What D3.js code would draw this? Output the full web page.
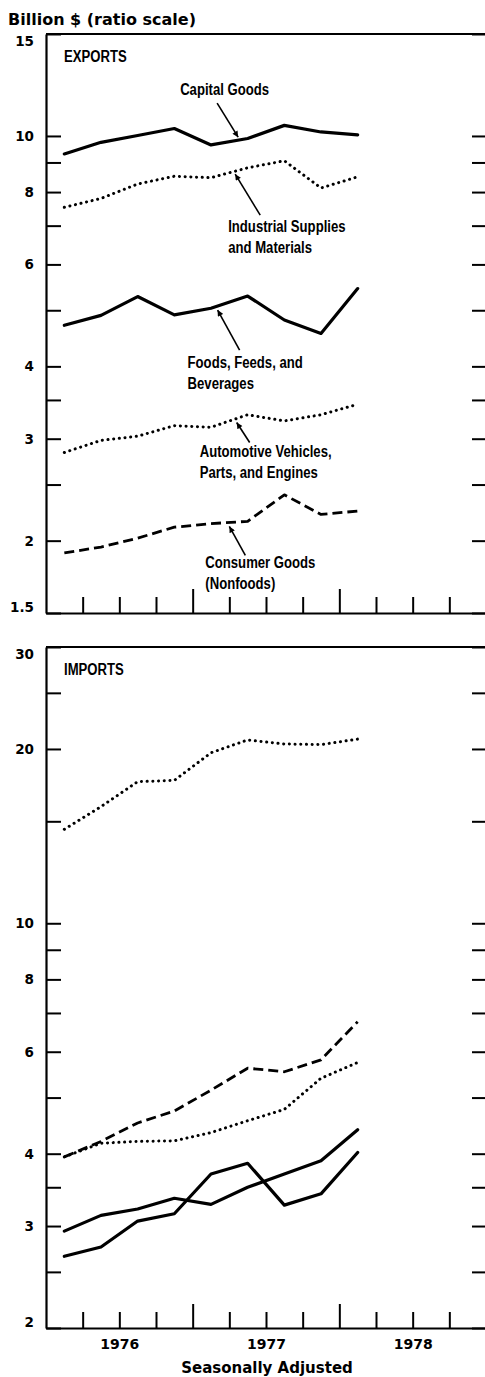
<!DOCTYPE html>
<html>
<head>
<meta charset="utf-8">
<script src="https://cdn.jsdelivr.net/npm/d3@7"></script>
<style>
  body { margin: 0; background: #fff; }
  svg { display: block; }
</style>
</head>
<body>
<svg id="chart" width="485" height="1377"></svg>
<script>
// U.S. merchandise trade by end-use category, quarterly, billions of dollars (seasonally adjusted)
const quarters = ["1976 Q1", "1976 Q2", "1976 Q3", "1976 Q4", "1977 Q1", "1977 Q2", "1977 Q3", "1977 Q4", "1978 Q1"];
const years = [1976, 1977, 1978];

const exportCapitalGoods       = [9.31, 9.75, 10.02, 10.3, 9.65, 9.9, 10.43, 10.16, 10.04];
const exportIndustrialSupplies = [7.53, 7.8, 8.26, 8.52, 8.47, 8.81, 9.06, 8.13, 8.5];
const exportFoods              = [4.71, 4.9, 5.28, 4.91, 5.04, 5.29, 4.81, 4.56, 5.45];
const exportAutomotive         = [2.84, 2.98, 3.03, 3.16, 3.14, 3.3, 3.22, 3.3, 3.44];
const exportConsumerGoods      = [1.905, 1.95, 2.02, 2.11, 2.14, 2.16, 2.4, 2.22, 2.25];

const importIndustrialSupplies = [14.53, 15.9, 17.56, 17.65, 19.7, 20.73, 20.4, 20.35, 20.8];
const importConsumerGoods      = [3.95, 4.2, 4.52, 4.74, 5.15, 5.62, 5.54, 5.81, 6.76];
const importAutomotive         = [3.95, 4.17, 4.2, 4.21, 4.35, 4.56, 4.77, 5.4, 5.75];
const importCapitalGoods       = [2.94, 3.13, 3.21, 3.35, 3.27, 3.5, 3.69, 3.89, 4.4];
const importFoods              = [2.66, 2.76, 3.06, 3.15, 3.69, 3.85, 3.26, 3.41, 4.02];

const exportTickLabels = [1.5, 2, 3, 4, 6, 8, 10, 15];
const exportMinorTicks = [2.5, 3.5, 5, 7, 9];
const importTickLabels = [2, 3, 4, 6, 8, 10, 20, 30];
const importMinorTicks = [2.5, 3.5, 5, 7, 9, 15, 25];

// ---------------------------------------------------------------------------

const numFont = '"DejaVu Sans", Verdana, sans-serif';
const labelFont = '"Liberation Sans", Arial, sans-serif';
const narrow = 0.82; // horizontal squeeze for the condensed label face

// each quarter is plotted at its midpoint
const qTime = quarters.map(q => {
  const [yr, qq] = q.split(" Q");
  return +yr + (+qq - 0.5) / 4;
});

const lineStyles = {
  solid:  { width: 3.2, dash: null, cap: "round" },
  dotted: { width: 3.0, dash: "0.1 5.6", cap: "round" },
  dashed: { width: 2.8, dash: "10 5", cap: "butt" }
};

const svg = d3.select("#chart");
const x = d3.scaleLinear().domain([years[0], years[years.length - 1] + 1]).range([46, 486]);
const plotRight = 485;

svg.append("defs").append("marker")
  .attr("id", "arrowhead")
  .attr("viewBox", "0 0 10 10")
  .attr("refX", 10).attr("refY", 5)
  .attr("markerWidth", 8).attr("markerHeight", 6)
  .attr("markerUnits", "userSpaceOnUse")
  .attr("orient", "auto")
  .append("path").attr("d", "M0,0L10,5L0,10Z").attr("fill", "#000");

// condensed text block: lines stacked from a left/baseline anchor
function narrowText(parent, x0, y0, lines, lead) {
  const t = parent.append("text")
    .attr("transform", `translate(${x0},${y0}) scale(${narrow},1)`)
    .attr("font-family", labelFont)
    .attr("font-weight", "bold")
    .attr("font-size", 16);
  lines.forEach((txt, k) => {
    t.append("tspan").attr("x", 0).attr("y", k * lead).text(txt);
  });
  return t;
}

const panels = [
  {
    title: "EXPORTS",
    y: d3.scaleLog().domain([1.5, 15]).range([613, 34]),
    labels: exportTickLabels,
    minor: exportMinorTicks,
    series: [
      { name: "Capital Goods", values: exportCapitalGoods, style: "solid" },
      { name: "Industrial Supplies and Materials", values: exportIndustrialSupplies, style: "dotted" },
      { name: "Foods, Feeds, and Beverages", values: exportFoods, style: "solid" },
      { name: "Automotive Vehicles, Parts, and Engines", values: exportAutomotive, style: "dotted" },
      { name: "Consumer Goods (Nonfoods)", values: exportConsumerGoods, style: "dashed" }
    ],
    // label callouts: position along the line, arrow tail and text offsets from the arrow tip
    notes: [
      { series: 0, t: 1977.31, tipDy: -3, tail: [-21, -34], text: [-58, -42], lines: ["Capital Goods"] },
      { series: 1, t: 1977.29, tipDy: 3,  tail: [25, 41],   text: [-7, 58],   lines: ["Industrial Supplies", "and Materials"] },
      { series: 2, t: 1977.17, tipDy: 4,  tail: [22, 40],   text: [-30, 58],  lines: ["Foods, Feeds, and", "Beverages"] },
      { series: 3, t: 1977.30, tipDy: 4,  tail: [13, 20],   text: [-37, 35],  lines: ["Automotive Vehicles,", "Parts, and Engines"] },
      { series: 4, t: 1977.25, tipDy: 4,  tail: [16, 29],   text: [-24, 42],  lines: ["Consumer Goods", "(Nonfoods)"] }
    ]
  },
  {
    title: "IMPORTS",
    y: d3.scaleLog().domain([2, 30]).range([1328, 647]),
    labels: importTickLabels,
    minor: importMinorTicks,
    series: [
      { name: "Industrial Supplies and Materials", values: importIndustrialSupplies, style: "dotted" },
      { name: "Consumer Goods (Nonfoods)", values: importConsumerGoods, style: "dashed" },
      { name: "Automotive Vehicles, Parts, and Engines", values: importAutomotive, style: "dotted" },
      { name: "Capital Goods", values: importCapitalGoods, style: "solid" },
      { name: "Foods, Feeds, and Beverages", values: importFoods, style: "solid" }
    ],
    notes: []
  }
];

// quarter ticks along the bottom edge; year boundaries get taller marks
const quarterTicks = d3.range(1, 4 * years.length).map(i => years[0] + i / 4);

panels.forEach(p => {
  const g = svg.append("g");
  const [bottom, top] = p.y.range();
  const allTicks = p.labels.concat(p.minor).sort(d3.ascending);

  // top frame line
  g.append("line")
    .attr("x1", x.range()[0]).attr("x2", plotRight)
    .attr("y1", top).attr("y2", top)
    .attr("stroke", "#000").attr("stroke-width", 2.2);

  // left axis with inward ticks
  const left = g.append("g")
    .attr("transform", `translate(${x.range()[0]},0)`)
    .call(d3.axisRight(p.y).tickValues(allTicks).tickSizeInner(15).tickSizeOuter(0).tickFormat(""));
  left.select(".domain").attr("stroke-width", 2.2);
  left.selectAll(".tick line").attr("stroke-width", 2);

  // right side ticks
  const right = g.append("g")
    .attr("transform", `translate(${plotRight},0)`)
    .call(d3.axisLeft(p.y).tickValues(allTicks).tickSizeInner(13).tickSizeOuter(0).tickFormat(""));
  right.select(".domain").remove();
  right.selectAll(".tick line").attr("stroke-width", 2);

  // value labels, kept inside the panel at the ends
  g.selectAll("text.ylab")
    .data(p.labels)
    .join("text")
    .attr("class", "ylab")
    .attr("x", 34)
    .attr("y", d => Math.min(bottom - 6, Math.max(top + 7, p.y(d))))
    .attr("dy", "0.36em")
    .attr("text-anchor", "end")
    .attr("font-family", numFont)
    .attr("font-weight", "bold")
    .attr("font-size", 13.5)
    .text(d => d);

  // bottom axis with quarter ticks
  const bx = g.append("g")
    .attr("transform", `translate(0,${bottom})`)
    .call(d3.axisTop(x).tickValues(quarterTicks).tickSizeInner(16).tickSizeOuter(0).tickFormat(""));
  bx.select(".domain").attr("stroke-width", 2.2);
  bx.selectAll(".tick line")
    .attr("stroke-width", 2)
    .attr("y2", d => Number.isInteger(d) ? -24 : -16);

  // panel title
  narrowText(g, 64, top + 27.5, [p.title], 0);

  // series lines
  const line = d3.line()
    .x((d, i) => x(qTime[i]))
    .y(d => p.y(d));

  p.series.forEach(s => {
    const st = lineStyles[s.style];
    g.append("path")
      .datum(s.values)
      .attr("d", line)
      .attr("fill", "none")
      .attr("stroke", "#000")
      .attr("stroke-width", st.width)
      .attr("stroke-linejoin", "round")
      .attr("stroke-linecap", st.cap)
      .attr("stroke-dasharray", st.dash);
  });

  // callouts
  p.notes.forEach(n => {
    const vals = p.series[n.series].values;
    let i = d3.bisectRight(qTime, n.t) - 1;
    i = Math.max(0, Math.min(qTime.length - 2, i));
    const f = (n.t - qTime[i]) / (qTime[i + 1] - qTime[i]);
    const ly = p.y(vals[i]) + f * (p.y(vals[i + 1]) - p.y(vals[i]));
    const tipX = x(n.t), tipY = ly + n.tipDy;

    g.append("line")
      .attr("x1", tipX + n.tail[0]).attr("y1", tipY + n.tail[1])
      .attr("x2", tipX).attr("y2", tipY)
      .attr("stroke", "#000").attr("stroke-width", 1.6)
      .attr("marker-end", "url(#arrowhead)");

    narrowText(g, tipX + n.text[0], tipY + n.text[1], n.lines, 21);
  });
});

// year labels under the lower panel
const lower = panels[1];
svg.append("g")
  .attr("transform", `translate(0,${lower.y.range()[0]})`)
  .call(d3.axisBottom(x).tickValues(years.map(y => y + 0.5)).tickSize(0).tickPadding(11).tickFormat(d => Math.floor(d)))
  .call(a => a.select(".domain").remove())
  .selectAll("text")
  .attr("font-family", numFont)
  .attr("font-weight", "bold")
  .attr("font-size", 14)
  .attr("fill", "#000");

svg.append("text")
  .attr("x", 8).attr("y", 25)
  .attr("font-family", numFont)
  .attr("font-weight", "bold")
  .attr("font-size", 16)
  .text("Billion $ (ratio scale)");

svg.append("text")
  .attr("x", 267).attr("y", 1373)
  .attr("text-anchor", "middle")
  .attr("font-family", numFont)
  .attr("font-weight", "bold")
  .attr("font-size", 15)
  .text("Seasonally Adjusted");
</script>
</body>
</html>
